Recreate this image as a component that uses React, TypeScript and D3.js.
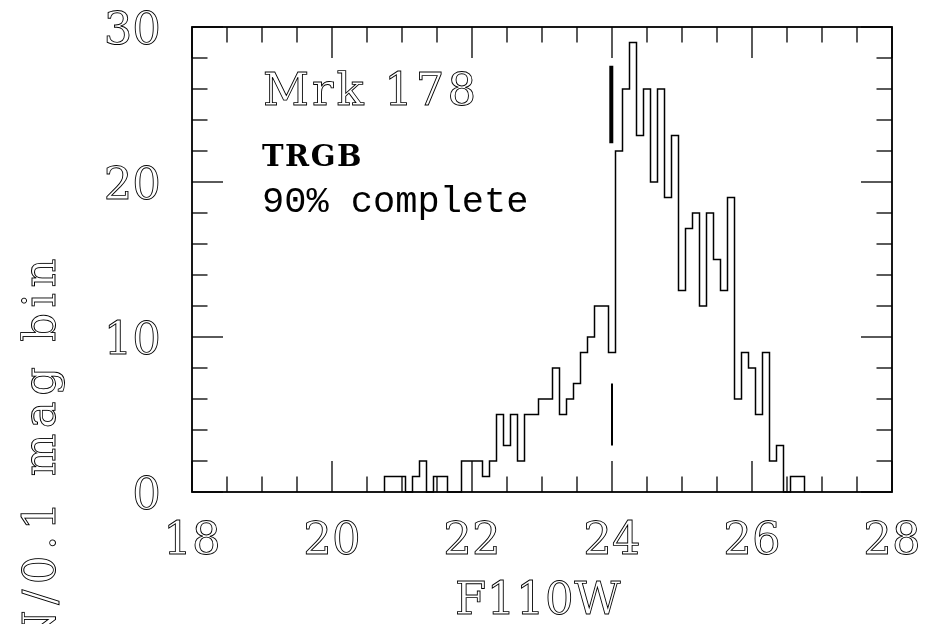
import React from "react";
import * as d3 from "d3";

const binCenters = [
  20.8, 20.9, 21.0, 21.1, 21.2, 21.3, 21.4, 21.5, 21.6, 21.7, 21.8, 21.9,
  22.0, 22.1, 22.2, 22.3, 22.4, 22.5, 22.6, 22.7, 22.8, 22.9,
  23.0, 23.1, 23.2, 23.3, 23.4, 23.5, 23.6, 23.7, 23.8, 23.9,
  24.0, 24.1, 24.2, 24.3, 24.4, 24.5, 24.6, 24.7, 24.8, 24.9,
  25.0, 25.1, 25.2, 25.3, 25.4, 25.5, 25.6, 25.7, 25.8, 25.9,
  26.0, 26.1, 26.2, 26.3, 26.4, 26.5, 26.6, 26.7,
];
const counts = [
  1, 1, 1, 0, 1, 2, 0, 1, 1, 0, 0, 2,
  2, 2, 1, 2, 5, 3, 5, 2, 5, 5,
  6, 6, 8, 5, 6, 7, 9, 10, 12, 12,
  9, 22, 26, 29, 23, 26, 20, 26, 19, 23,
  13, 17, 18, 12, 18, 15, 13, 19, 6, 9,
  8, 5, 9, 2, 3, 0, 1, 1,
];
const binWidth = 0.1;
const xTickLabels = [18, 20, 22, 24, 26, 28];
const yTickLabels = [0, 10, 20, 30];
const trgbMag = 23.99;
const trgbRange = [22.5, 27.5];
const completeMag = 24.0;
const completeRange = [3, 7];

export default function App() {
  const W = 925, H = 624;
  const L = 192, R = 892, T = 27, B = 492;
  const x = d3.scaleLinear().domain([18, 28]).range([L, R]);
  const y = d3.scaleLinear().domain([0, 30]).range([B, T]);

  const pts: [number, number][] = [];
  pts.push([binCenters[0] - binWidth / 2, 0]);
  binCenters.forEach((c, i) => {
    pts.push([c - binWidth / 2, counts[i]]);
    pts.push([c + binWidth / 2, counts[i]]);
  });
  pts.push([binCenters[binCenters.length - 1] + binWidth / 2, 0]);
  const line = d3.line<[number, number]>().x((d) => x(d[0])).y((d) => y(d[1]));

  const xMinor = d3.range(18, 28.001, 0.5);
  const yMinor = d3.range(0, 30.001, 2);
  const major = 31, minor = 15.5;
  const isXMajor = (v: number) => Math.abs(v / 2 - Math.round(v / 2)) < 1e-6;
  const isYMajor = (v: number) => Math.abs(v / 10 - Math.round(v / 10)) < 1e-6;

  const hollow = {
    fill: "none",
    stroke: "#000",
    strokeWidth: 0.9,
    fontFamily: "'DejaVu Serif', serif",
  } as const;

  return (
    <svg width={W} height={H} style={{ position: "absolute", left: 0, top: 0, background: "#fff" }}>
      <rect x={0} y={0} width={W} height={H} fill="#fff" />
      {/* ticks */}
      {xMinor.map((v) => {
        const len = isXMajor(v) ? major : minor;
        return (
          <g key={"xt" + v} stroke="#000" strokeWidth={1.3}>
            <line x1={x(v)} x2={x(v)} y1={B} y2={B - len} />
            <line x1={x(v)} x2={x(v)} y1={T} y2={T + len} />
          </g>
        );
      })}
      {yMinor.map((v) => {
        const len = isYMajor(v) ? major : minor;
        return (
          <g key={"yt" + v} stroke="#000" strokeWidth={1.3}>
            <line x1={L} x2={L + len} y1={y(v)} y2={y(v)} />
            <line x1={R} x2={R - len} y1={y(v)} y2={y(v)} />
          </g>
        );
      })}
      {/* histogram */}
      <path d={line(pts) || ""} fill="none" stroke="#000" strokeWidth={1.5} />
      {/* frame */}
      <rect x={L} y={T} width={R - L} height={B - T} fill="none" stroke="#000" strokeWidth={1.8} />
      {/* markers */}
      <line x1={x(trgbMag)} x2={x(trgbMag)} y1={y(trgbRange[0])} y2={y(trgbRange[1])} stroke="#000" strokeWidth={4} />
      <line x1={x(completeMag)} x2={x(completeMag)} y1={y(completeRange[0])} y2={y(completeRange[1])} stroke="#000" strokeWidth={2} />
      <g opacity={0.999}>
        {/* tick labels */}
        {xTickLabels.map((v) => (
          <text key={"xl" + v} x={x(v)} y={554} textAnchor="middle" fontSize={45} {...hollow}>
            {v}
          </text>
        ))}
        {yTickLabels.map((v) => (
          <text key={"yl" + v} x={161} y={y(v) + 16.5} textAnchor="end" fontSize={45} {...hollow}>
            {v}
          </text>
        ))}
        {/* axis titles */}
        <text x={538} y={614} textAnchor="middle" fontSize={45} letterSpacing={0.5} {...hollow}>
          F110W
        </text>
        <text
          transform="translate(55,253) rotate(-90)"
          x={0}
          y={0}
          textAnchor="end"
          fontSize={45}
          letterSpacing={5.5}
          {...hollow}
        >
          N/0.1 mag bin
        </text>
        {/* annotations */}
        <text x={263} y={105} fontSize={45} letterSpacing={3} {...hollow}>
          Mrk 178
        </text>
        <text x={262} y={166} fontSize={29} fontWeight="bold" fontFamily="'DejaVu Serif', serif" letterSpacing={1.5} fill="#000">
          TRGB
        </text>
        <text x={262} y={212} fontSize={37} fontFamily="'Liberation Mono', monospace" fill="#000">
          90% complete
        </text>
      </g>
    </svg>
  );
}
